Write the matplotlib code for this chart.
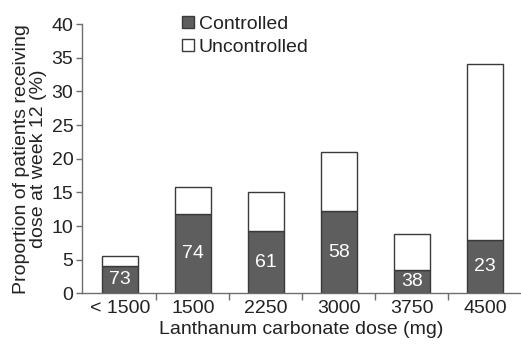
import matplotlib.pyplot as plt
from matplotlib.patches import Patch

plt.rcParams["font.family"] = ["Liberation Sans", "DejaVu Sans"]

doses = ["< 1500", "1500", "2250", "3000", "3750", "4500"]
controlled = [4.1, 11.8, 9.2, 12.2, 3.5, 7.9]
total = [5.6, 15.8, 15.0, 21.0, 8.8, 34.0]
n_labels = ["73", "74", "61", "58", "38", "23"]

uncontrolled = [t - c for t, c in zip(total, controlled)]

dark = "#5e5e5e"
edge = "#3a3a3a"
axcol = "#6e6e6e"
txt = "#222222"
fs = 14

fig = plt.figure(figsize=(5.21, 3.48), dpi=100)
ax = fig.add_axes([0.157, 0.157, 0.841, 0.774])

x = list(range(len(doses)))
ax.bar(x, controlled, width=0.5, color=dark, edgecolor=edge, lw=1.0)
ax.bar(x, uncontrolled, width=0.5, bottom=controlled, color="white",
       edgecolor=edge, lw=1.0)

for xi, c, lab in zip(x, controlled, n_labels):
    ax.text(xi, c / 2, lab, ha="center", va="center", color="white",
            fontsize=fs)

ax.set_xlim(-0.52, 5.48)
ax.set_ylim(0, 40)
ax.set_yticks(range(0, 41, 5))
ax.set_xticks(x)
ax.set_xticklabels(doses)
ax.set_xticks([i + 0.5 for i in range(5)], minor=True)
ax.tick_params(axis="x", which="major", length=0, pad=5)
ax.tick_params(axis="x", which="minor", length=5, width=1, color=axcol,
               direction="out")
ax.tick_params(axis="y", length=4, width=1, color=axcol, pad=2)
ax.tick_params(labelsize=fs, labelcolor=txt)

for s in ["top", "right"]:
    ax.spines[s].set_visible(False)
for s in ["left", "bottom"]:
    ax.spines[s].set_color(axcol)
    ax.spines[s].set_linewidth(1.0)

ax.set_xlabel("Lanthanum carbonate dose (mg)", fontsize=fs, color=txt,
              labelpad=3)
ax.set_ylabel("Proportion of patients receiving\ndose at week 12 (%)",
              fontsize=fs, color=txt, labelpad=3, linespacing=1.05)

handles = [Patch(facecolor=dark, edgecolor=edge, label="Controlled"),
           Patch(facecolor="white", edgecolor=edge, label="Uncontrolled")]
fig.legend(handles=handles, loc="upper left", bbox_to_anchor=(0.327, 0.988),
           frameon=False, fontsize=fs, handlelength=0.6, handleheight=0.6,
           handletextpad=0.25, labelspacing=0.3, labelcolor=txt,
           borderaxespad=0.2)

fig.savefig("out.png", dpi=100)
